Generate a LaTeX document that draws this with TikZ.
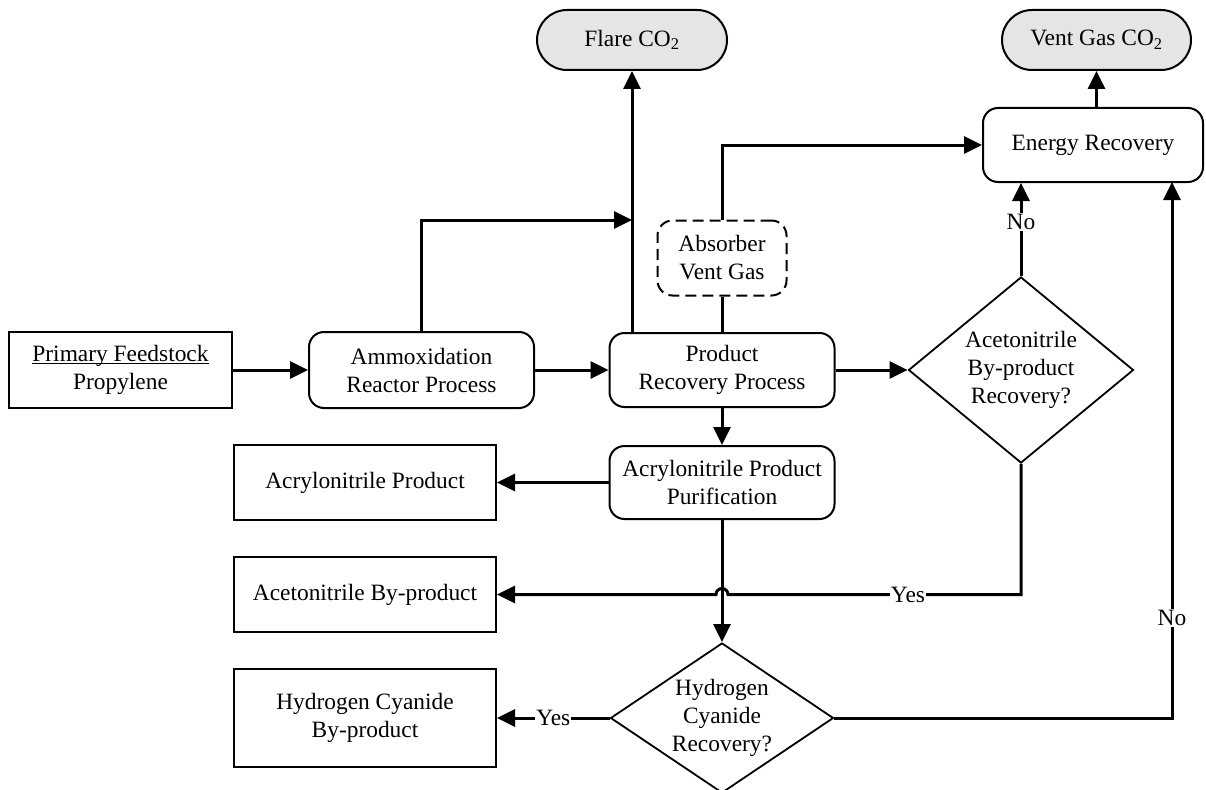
\documentclass[tikz,border=0pt]{standalone}
\usepackage{fontspec}
\setmainfont{Liberation Serif}
\usetikzlibrary{shapes.geometric,arrows.meta}
\newcommand\ulbase[1]{\setbox0\hbox{#1}\rlap{\rule[-2.5pt]{\wd0}{1.3pt}}\box0}
\begin{document}
\begin{tikzpicture}[x=1pt,y=-1pt,
  every node/.style={font=\fontsize{23.4}{28}\selectfont, align=center, inner sep=0pt},
  outbox/.style={draw, line width=2pt, minimum width=#1, minimum height=75pt},
  outbox/.default=262pt,
  procbox/.style={draw, line width=2pt, rounded corners=15pt, minimum width=#1, minimum height=75pt},
  procbox/.default=225pt,
  termbox/.style={draw, line width=2pt, rounded corners=30pt, fill=black!10, minimum width=#1, minimum height=60pt},
  dashbox/.style={draw, line width=2pt, dashed, dash pattern=on 11pt off 6pt, rounded corners=15pt, minimum width=129pt, minimum height=75pt},
  decision/.style={draw, diamond, line width=1.8pt, aspect=1.2},
  conn/.style={line width=3pt, -{Triangle[length=18pt,width=17pt]}},
  plainconn/.style={line width=3pt},
  lbl/.style={fill=white, inner sep=1pt}
]
\useasboundingbox (0,0) rectangle (1206,789);
% nodes
\node[outbox=223pt, minimum height=76pt] (prim) at (120.5,370) {\ulbase{Primary Feedstock}\\Propylene};
\node[procbox=225pt, minimum height=76pt] (ammox) at (421.5,370) {Ammoxidation\\Reactor Process};
\node[procbox=225pt, minimum height=74pt] (prodrec) at (722,370) {Product\\Recovery Process};
\node[procbox=225pt, minimum height=73pt] (purif) at (722,482.5) {Acrylonitrile Product\\Purification};
\node[outbox=262pt] (acrp) at (365,482.5) {Acrylonitrile Product};
\node[outbox=262pt] (acn) at (365,594.5) {Acetonitrile By-product};
\node[outbox=262pt, minimum height=98pt] (hcnp) at (365,718) {Hydrogen Cyanide\\By-product};
\node[termbox=190pt] (flare) at (632,40) {Flare CO\textsubscript{2}};
\node[termbox=189pt] (vent) at (1096.5,40) {Vent Gas CO\textsubscript{2}};
\node[procbox=220pt, minimum height=74pt] (energy) at (1093,145) {Energy Recovery};
\node[dashbox] (absorb) at (722,258) {Absorber\\Vent Gas};
\node[decision, minimum width=225pt, minimum height=186pt] (acdec) at (1021,370) {Acetonitrile\\By-product\\Recovery?};
\node[decision, minimum width=223pt, minimum height=150pt, aspect=1.49] (hcndec) at (722,718) {Hydrogen\\Cyanide\\Recovery?};
% helper coordinates
\coordinate (j1) at (632,220);
\coordinate (c1) at (acdec.south |- acn.east);
\coordinate (hop) at (722,594.5);
\coordinate (e1) at (acdec.north |- energy.south);
\coordinate (e2) at (1172,182);
\coordinate (c2) at (e2 |- hcndec.east);
% connectors
\draw[conn] (prim.east) -- (ammox.west);
\draw[conn] (ammox.east) -- (prodrec.west);
\draw[conn] (prodrec.east) -- (acdec.west);
\draw[conn] (ammox.north) |- (j1);
\draw[conn] (prodrec.north -| flare.south) -- (flare.south);
\draw[plainconn] (prodrec.north) -- (absorb.south);
\draw[conn] (absorb.north) |- (energy.west);
\draw[conn] (energy.north -| vent.south) -- (vent.south);
\draw[conn] (acdec.north) -- (e1) node[lbl, pos=0.58] {No};
\draw[conn] (prodrec.south) -- (purif.north);
\draw[conn] (purif.west) -- (acrp.east);
\draw[conn] (purif.south) -- (hcndec.north);
\draw[conn] (acdec.south) -- (c1) -- ([xshift=6pt]hop) arc[start angle=0, end angle=180, radius=6pt] -- (acn.east);
\node[lbl] (yes1) at (908,594.5) {Yes};
\draw[conn] (hcndec.west) -- (hcnp.east) node[lbl, pos=0.5] {Yes};
\draw[conn] (hcndec.east) -- (c2) -- (e2);
\node[lbl] (no2) at (1172,618) {No};
\end{tikzpicture}
\end{document}
